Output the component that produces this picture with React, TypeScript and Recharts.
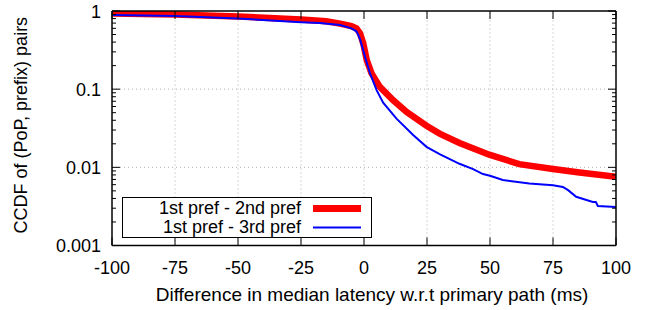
import React from "react";
import { LineChart, Line, XAxis, YAxis, ReferenceLine, Label } from "recharts";

const W = 652;
const H = 310;
const M = { top: 11, right: 36, left: 0, bottom: 0 };
const Y_AXIS_W = 112;
const X_AXIS_H = 64.5;
const PLOT_W = W - M.left - M.right - Y_AXIS_W;
const PLOT_H = H - M.top - M.bottom - X_AXIS_H;
const FONT = "'Liberation Sans', Arial, sans-serif";
const FS = 18;

const xTicks = [-100, -75, -50, -25, 0, 25, 50, 75, 100];
const xGrid = [-75, -50, -25, 0, 25, 50, 75];
const yMajor = [0.001, 0.01, 0.1, 1];
const yMajorLabels = ["0.001", "0.01", "0.1", "1"];
const yGrid = [0.01, 0.1];
const minorMult = [2, 3, 4, 5, 6, 7, 8, 9];
const yTicks = [
  ...yMajor,
  ...[0.001, 0.01, 0.1].flatMap((d) => minorMult.map((m) => +(d * m).toPrecision(3))),
];

const seriesNames = ["1st pref - 2nd pref", "1st pref - 3rd pref"];

const redX = [-100, -75, -50, -25, -15, -9.5, -5, -3, -1.6, -0.3, 1.1, 3, 6.3, 11.6, 16.9, 24.8, 30, 37.9, 49.7, 61.6, 75, 85.5, 100];
const redY = [0.93, 0.9, 0.85, 0.78, 0.74, 0.69, 0.64, 0.6, 0.52, 0.385, 0.235, 0.159, 0.107, 0.072, 0.051, 0.034, 0.027, 0.0205, 0.0145, 0.011, 0.0095, 0.0086, 0.0076];

const blueX = [-100, -75, -50, -25, -17.5, -9.5, -5, -3, -1.6, 0.4, 2.4, 5, 7.6, 12.9, 19.5, 24.8, 30, 37.9, 43.3, 47.2, 50, 55.1, 65.6, 75, 78.9, 81, 84.2, 90.8, 92, 92.8, 100];
const blueY = [0.89, 0.86, 0.8, 0.72, 0.7, 0.66, 0.6, 0.55, 0.44, 0.26, 0.159, 0.097, 0.067, 0.042, 0.026, 0.0183, 0.0148, 0.0111, 0.0095, 0.0082, 0.0078, 0.0069, 0.0062, 0.0059, 0.0056, 0.0051, 0.0042, 0.0036, 0.0036, 0.0032, 0.0031];

const redData = redX.map((x, i) => ({ x, y: redY[i] }));
const blueData = blueX.map((x, i) => ({ x, y: blueY[i] }));

const YTick = (props: any) => {
  const { x, y, payload } = props;
  const v = payload.value;
  const idx = yMajor.findIndex((m) => Math.abs(m - v) < 1e-9);
  const major = idx >= 0;
  const len = major ? 8 : 4;
  return (
    <g>
      <line x1={x} x2={x + len} y1={y} y2={y} stroke="#000" strokeWidth={1} />
      <line x1={x + PLOT_W} x2={x + PLOT_W - len} y1={y} y2={y} stroke="#000" strokeWidth={1} />
      {major && (
        <text x={x - 11} y={y} dy={6.5} textAnchor="end" fontSize={FS} fontFamily={FONT} fill="#000">
          {yMajorLabels[idx]}
        </text>
      )}
    </g>
  );
};

const XTick = (props: any) => {
  const { x, y, payload } = props;
  return (
    <g>
      <line x1={x} x2={x} y1={y} y2={y - 8} stroke="#000" strokeWidth={1} />
      <line x1={x} x2={x} y1={y - PLOT_H} y2={y - PLOT_H + 8} stroke="#000" strokeWidth={1} />
      <text x={x} y={y + 28.5} textAnchor="middle" fontSize={FS} fontFamily={FONT} fill="#000">
        {payload.value}
      </text>
    </g>
  );
};

const LegendBox = () => (
  <div
    style={{
      position: "absolute",
      left: 122,
      top: 197,
      boxSizing: "border-box",
      width: 250,
      height: 41,
      border: "1.5px solid #000",
      background: "#fff",
      fontFamily: FONT,
      fontSize: FS,
      color: "#000",
    }}
  >
    {seriesNames.map((n, i) => (
      <div
        key={n}
        style={{
          position: "absolute",
          left: 0,
          top: i === 0 ? 0.5 : 19.5,
          width: 248,
          height: 19,
          lineHeight: "19px",
        }}
      >
        <span style={{ position: "absolute", right: 70, top: 0, whiteSpace: "nowrap" }}>{n}</span>
        <svg width={48} height={19} style={{ position: "absolute", left: 190, top: 0 }}>
          <line x1={0} x2={48} y1={9.5} y2={9.5} stroke={i === 0 ? "#ff0000" : "#0000ff"} strokeWidth={i === 0 ? 7 : 2} />
        </svg>
      </div>
    ))}
  </div>
);

export default function App() {
  return (
    <div style={{ position: "absolute", left: 0, top: 0, width: W, height: H, background: "#fff" }}>
      <LineChart width={W} height={H} margin={M}>
        <XAxis
          type="number"
          dataKey="x"
          domain={[-100, 100]}
          ticks={xTicks}
          interval={0}
          allowDataOverflow
          height={X_AXIS_H}
          tickSize={0}
          tickMargin={0}
          tickLine={false}
          axisLine={false}
          tick={<XTick />}
          label={
            <Label
              content={(p: any) => {
                const vb = p.viewBox;
                return (
                  <text x={vb.x + vb.width / 2 + 8} y={vb.y + 55} textAnchor="middle" fontSize={19} fontFamily={FONT} fill="#000">
                    Difference in median latency w.r.t primary path (ms)
                  </text>
                );
              }}
            />
          }
        />
        <YAxis
          type="number"
          scale="log"
          domain={[0.001, 1]}
          ticks={yTicks}
          interval={0}
          allowDataOverflow
          width={Y_AXIS_W}
          tickSize={0}
          tickMargin={0}
          tickLine={false}
          axisLine={false}
          tick={<YTick />}
          label={
            <Label
              content={(p: any) => {
                const vb = p.viewBox;
                const cx = vb.x + 21;
                const cy = vb.y + vb.height / 2 - 3;
                return (
                  <text x={cx} y={cy} transform={`rotate(-90 ${cx} ${cy})`} textAnchor="middle" dominantBaseline="central" fontSize={FS} fontFamily={FONT} fill="#000">
                    CCDF of (PoP, prefix) pairs
                  </text>
                );
              }}
            />
          }
        />
        {xGrid.map((g) => (
          <ReferenceLine key={"gx" + g} x={g} stroke="#b0b0b0" strokeDasharray="1 3" strokeWidth={1} />
        ))}
        {yGrid.map((g) => (
          <ReferenceLine key={"gy" + g} y={g} stroke="#b0b0b0" strokeDasharray="1 3" strokeWidth={1} />
        ))}
        <Line
          data={redData}
          dataKey="y"
          name={seriesNames[0]}
          stroke="#ff0000"
          strokeWidth={6.5}
          dot={false}
          isAnimationActive={false}
        />
        <Line
          data={blueData}
          dataKey="y"
          name={seriesNames[1]}
          stroke="#0000ff"
          strokeWidth={2}
          dot={false}
          isAnimationActive={false}
        />
        <ReferenceLine x={-100} stroke="#000" strokeWidth={1.5} />
        <ReferenceLine x={100} stroke="#000" strokeWidth={1.5} />
        <ReferenceLine y={0.001} stroke="#000" strokeWidth={1.5} />
        <ReferenceLine y={1} stroke="#000" strokeWidth={1.5} />
      </LineChart>
      <LegendBox />
    </div>
  );
}
